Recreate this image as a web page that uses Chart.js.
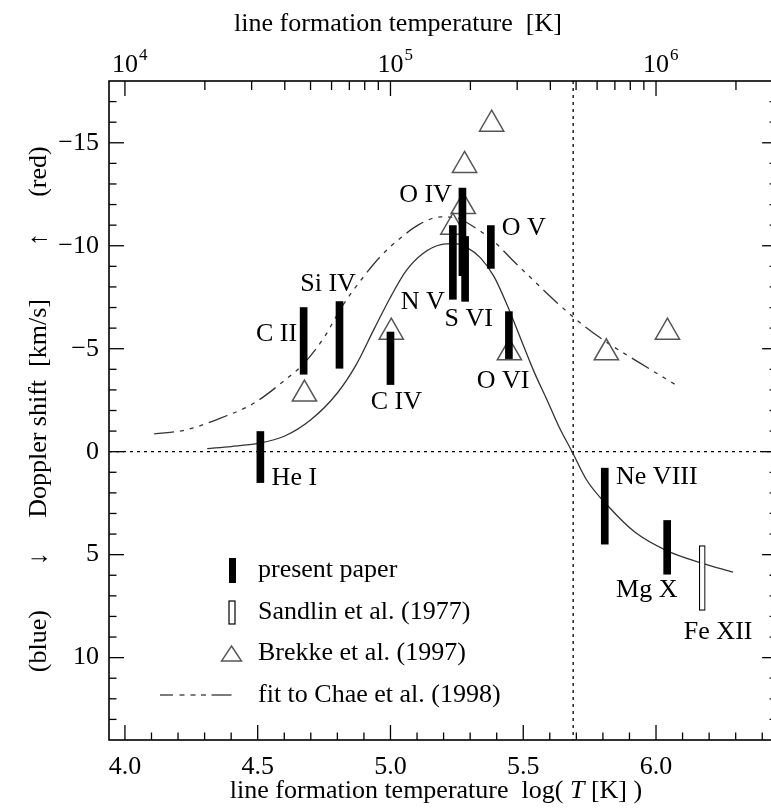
<!DOCTYPE html>
<html>
<head>
<meta charset="utf-8">
<script src="https://cdn.jsdelivr.net/npm/chart.js@4.4.0/dist/chart.umd.min.js"></script>
<style>
  html, body { margin: 0; padding: 0; background: #fff; overflow: hidden; }
  #wrap { width: 771px; height: 808px; }
</style>
</head>
<body>
<div id="wrap"><canvas id="c" width="771" height="808"></canvas></div>
<script>
// axis ranges (log T on x, Doppler shift km/s on y, red shift up)
// the plot frame is cut by the right edge of the picture: X_FRAME is where its right side would be
const X_MIN = 3.94, X_MAX = 6.433, X_FRAME = 6.456;
const Y_MIN = -18, Y_MAX = 14;
const X_ZERO_CROSS = 5.688;

const xTickVals = [4.0, 4.5, 5.0, 5.5, 6.0];
const yTickVals = [-15, -10, -5, 0, 5, 10];
const topTickExp = [4, 5, 6];

// present paper: filled bars (log T, top, bottom)
const presentNames = ['He I', 'C II', 'Si IV', 'C IV', 'N V', 'O IV', 'S VI', 'O V', 'O VI', 'Ne VIII', 'Mg X'];
const presentT  = [4.51, 4.673, 4.808, 5.0, 5.235, 5.271, 5.281, 5.378, 5.446, 5.807, 6.042];
const presentLo = [-0.98, -7.0, -7.29, -5.81, -10.98, -12.8, -10.45, -10.98, -6.8, 0.8, 3.34];
const presentHi = [1.5, -3.76, -4.05, -3.26, -7.4, -8.55, -7.3, -8.9, -4.52, 4.49, 5.95];

// Sandlin et al. (1977): open bar
const sandlinT  = [6.174];
const sandlinLo = [4.56];
const sandlinHi = [7.71];

// Brekke et al. (1997): triangles
const brekkeT = [4.676, 5.003, 5.235, 5.274, 5.279, 5.381, 5.448, 5.813, 6.043];
const brekkeV = [-2.8, -5.8, -10.9, -11.9, -13.9, -15.9, -4.8, -4.8, -5.8];

// solid fit curve
const fitT = [4.31, 4.40, 4.50, 4.60, 4.70, 4.80, 4.87, 4.94, 5.00, 5.06, 5.12, 5.19, 5.24, 5.29, 5.34, 5.39, 5.44, 5.49, 5.54, 5.59, 5.635, 5.684, 5.74, 5.82, 5.92, 6.04, 6.17, 6.29];
const fitV = [-0.15, -0.25, -0.4, -0.75, -1.55, -2.85, -4.2, -6.0, -7.5, -8.8, -9.6, -10.05, -10.1, -9.9, -9.4, -8.5, -7.1, -5.5, -3.9, -2.5, -1.2, 0.0, 1.4, 2.65, 3.9, 4.8, 5.4, 5.85];

// fit to Chae et al. (1998), dash-dot-dot-dot
const chaeT = [4.11, 4.23, 4.36, 4.485, 4.60, 4.675, 4.75, 4.82, 4.89, 4.96, 5.04, 5.11, 5.19, 5.25, 5.31, 5.39, 5.46, 5.54, 5.63, 5.72, 5.81, 5.94, 6.08];
const chaeV = [-0.86, -1.06, -1.63, -2.35, -3.45, -4.3, -5.55, -7.1, -8.35, -9.45, -10.4, -11.05, -11.4, -11.35, -10.95, -10.2, -9.3, -8.3, -7.2, -6.2, -5.35, -4.3, -3.2];

// ion labels (centre of text, data coords)
const labelText = ['He I', 'C II', 'Si IV', 'C IV', 'N V', 'O IV', 'S VI', 'O V', 'O VI', 'Ne VIII', 'Mg X', 'Fe XII'];
const labelX = [4.638, 4.571, 4.765, 5.022, 5.122, 5.132, 5.295, 5.502, 5.424, 6.003, 5.965, 6.234];
const labelY = [1.27, -5.72, -8.15, -2.39, -7.25, -12.47, -6.45, -10.85, -3.44, 1.25, 6.71, 8.77];

const FONT = '"Liberation Serif", "DejaVu Serif", serif';
const FS = 26;
const CHAE_DASH = [20, 6, 4, 6, 4, 6, 4, 6];

function fnt(size, style) { return (style ? style + ' ' : '') + size + 'px ' + FONT; }

// tick marks, frame, texts, legend
const decor = {
  id: 'decor',
  afterDraw(chart) {
    const ctx = chart.ctx, xs = chart.scales.x, ys = chart.scales.y, a = chart.chartArea;
    const right = xs.getPixelForValue(X_FRAME);
    ctx.save();
    ctx.strokeStyle = '#000';
    ctx.lineWidth = 1.3;
    const seg = (x1, y1, x2, y2) => { ctx.beginPath(); ctx.moveTo(x1, y1); ctx.lineTo(x2, y2); ctx.stroke(); };

    // bottom ticks
    for (let i = 0; i <= 24; i++) {
      const v = Math.round((4 + i * 0.1) * 10) / 10;
      if (v > X_MAX) break;
      const px = xs.getPixelForValue(v);
      const major = Math.abs(v * 2 - Math.round(v * 2)) < 1e-6;
      seg(px, a.bottom, px, a.bottom - (major ? 15 : 7.5));
    }
    // top log ticks
    topTickExp.forEach(n => {
      for (let k = 1; k <= 9; k++) {
        const v = n + Math.log10(k);
        if (v > X_MAX) continue;
        const px = xs.getPixelForValue(v);
        seg(px, a.top, px, a.top + (k === 1 ? 15 : 9));
      }
    });
    // y ticks, both sides
    for (let v = Y_MIN + 1; v < Y_MAX; v++) {
      const py = ys.getPixelForValue(v);
      const L = v % 5 === 0 ? 15 : 7.5;
      seg(a.left, py, a.left + L, py);
      seg(right, py, right - L, py);
    }
    ctx.lineWidth = 1.6;
    ctx.strokeRect(a.left, a.top, right - a.left, a.bottom - a.top);

    ctx.fillStyle = '#000';
    // top tick labels 10^n
    ctx.textBaseline = 'alphabetic';
    topTickExp.forEach(n => {
      const px = xs.getPixelForValue(n);
      ctx.font = fnt(FS);
      const w = ctx.measureText('10').width;
      ctx.textAlign = 'left';
      ctx.fillText('10', px - w / 2, 72);
      ctx.font = fnt(17);
      ctx.fillText(String(n), px + w / 2 + 1, 60);
    });

    // titles
    ctx.font = fnt(FS);
    ctx.textAlign = 'center';
    ctx.textBaseline = 'middle';
    ctx.fillText('line formation temperature  [K]', 398, 24);

    // bottom title with italic T
    const parts = [['line formation temperature  log( ', ''], ['T', 'italic'], [' [K] )', '']];
    let total = 0;
    parts.forEach(p => { ctx.font = fnt(FS, p[1]); total += ctx.measureText(p[0]).width; });
    let x0 = 436 - total / 2;
    ctx.textAlign = 'left';
    parts.forEach(p => { ctx.font = fnt(FS, p[1]); ctx.fillText(p[0], x0, 791); x0 += ctx.measureText(p[0]).width; });

    // y title pieces, rotated
    ctx.save();
    ctx.translate(39, 0);
    ctx.rotate(-Math.PI / 2);
    ctx.font = fnt(FS);
    ctx.textAlign = 'center';
    [['(red)', -13.6], ['\u2191', -10.3], ['Doppler shift  [km/s]', -2.1], ['\u2193', 5.2], ['(blue)', 9.2]].forEach(p => {
      ctx.fillText(p[0], -ys.getPixelForValue(p[1]), 0);
    });
    ctx.restore();

    // ion labels
    ctx.font = fnt(FS);
    ctx.textAlign = 'center';
    ctx.textBaseline = 'middle';
    labelText.forEach((t, i) => ctx.fillText(t, xs.getPixelForValue(labelX[i]), ys.getPixelForValue(labelY[i])));

    // legend
    ctx.fillRect(229, 558, 7, 25);
    ctx.fillStyle = '#fff';
    ctx.fillRect(229, 601, 6, 23);
    ctx.lineWidth = 1.2;
    ctx.strokeRect(229, 601, 6, 23);
    ctx.strokeStyle = '#555';
    ctx.lineWidth = 1.4;
    ctx.beginPath();
    ctx.moveTo(231.5, 646); ctx.lineTo(241.5, 661); ctx.lineTo(221.5, 661); ctx.closePath();
    ctx.stroke();
    ctx.strokeStyle = '#333';
    ctx.lineWidth = 1.3;
    [[160, 173], [179.5, 184.5], [190.5, 195.5], [201, 206], [211.5, 231.5]].forEach(s => seg(s[0], 695, s[1], 695));
    ctx.fillStyle = '#000';
    ctx.font = fnt(FS);
    ctx.textAlign = 'left';
    [['present paper', 570], ['Sandlin et al. (1977)', 612], ['Brekke et al. (1997)', 653], ['fit to Chae et al. (1998)', 695]].forEach(p => ctx.fillText(p[0], 258, p[1]));
    ctx.restore();
  }
};

const present = presentT.map((t, i) => ({ x: t, y: [presentLo[i], presentHi[i]] }));
const sandlin = sandlinT.map((t, i) => ({ x: t, y: [sandlinLo[i], sandlinHi[i]] }));
const brekke = brekkeT.map((t, i) => ({ x: t, y: brekkeV[i] }));
const fit = fitT.map((t, i) => ({ x: t, y: fitV[i] }));
const chae = chaeT.map((t, i) => ({ x: t, y: chaeV[i] }));

new Chart(document.getElementById('c'), {
  type: 'scatter',
  data: {
    datasets: [
      { type: 'bar', data: present, backgroundColor: '#000', barThickness: 7, grouped: false, borderSkipped: false },
      { type: 'bar', data: sandlin, backgroundColor: '#fff', borderColor: '#000', borderWidth: 1.2, barThickness: 6, grouped: false, borderSkipped: false },
      { type: 'scatter', data: brekke, pointStyle: 'triangle', pointRadius: 14, borderColor: '#555', borderWidth: 1.5, backgroundColor: 'rgba(0,0,0,0)' },
      { type: 'line', data: fit, borderColor: '#333', borderWidth: 1.3, pointRadius: 0, cubicInterpolationMode: 'monotone', fill: false },
      { type: 'line', data: chae, borderColor: '#333', borderWidth: 1.3, borderDash: CHAE_DASH, pointRadius: 0, cubicInterpolationMode: 'monotone', fill: false },
      { type: 'line', data: [{ x: X_MIN, y: 0 }, { x: X_MAX, y: 0 }], borderColor: '#000', borderWidth: 1.3, borderDash: [3, 4], pointRadius: 0 },
      { type: 'line', data: [{ x: X_ZERO_CROSS, y: Y_MIN }, { x: X_ZERO_CROSS, y: Y_MAX }], borderColor: '#000', borderWidth: 1.3, borderDash: [3, 4], pointRadius: 0 },
    ]
  },
  options: {
    responsive: false,
    animation: false,
    layout: { padding: 0, autoPadding: false },
    plugins: { legend: { display: false }, tooltip: { enabled: false } },
    scales: {
      x: {
        type: 'linear', position: 'bottom', min: X_MIN, max: X_MAX, offset: false,
        grid: { display: false, drawTicks: false }, border: { display: false },
        afterBuildTicks: s => { s.ticks = xTickVals.map(v => ({ value: v })); },
        afterFit: s => { s.height = 68; },
        ticks: { autoSkip: false, maxRotation: 0, padding: 12, color: '#000', font: { family: FONT, size: FS }, callback: v => v.toFixed(1) }
      },
      x2: {
        type: 'linear', position: 'top', min: X_MIN, max: X_MAX,
        grid: { display: false, drawTicks: false }, border: { display: false },
        ticks: { display: false },
        afterFit: s => { s.height = 81; }
      },
      y: {
        type: 'linear', position: 'left', min: Y_MIN, max: Y_MAX, reverse: true,
        grid: { display: false, drawTicks: false }, border: { display: false },
        afterBuildTicks: s => { s.ticks = yTickVals.map(v => ({ value: v })); },
        afterFit: s => { s.width = 109; },
        ticks: { autoSkip: false, padding: 10, color: '#000', font: { family: FONT, size: FS }, callback: v => v < 0 ? '\u2212' + Math.abs(v) : String(v) }
      }
    }
  },
  plugins: [decor]
});
</script>
</body>
</html>
